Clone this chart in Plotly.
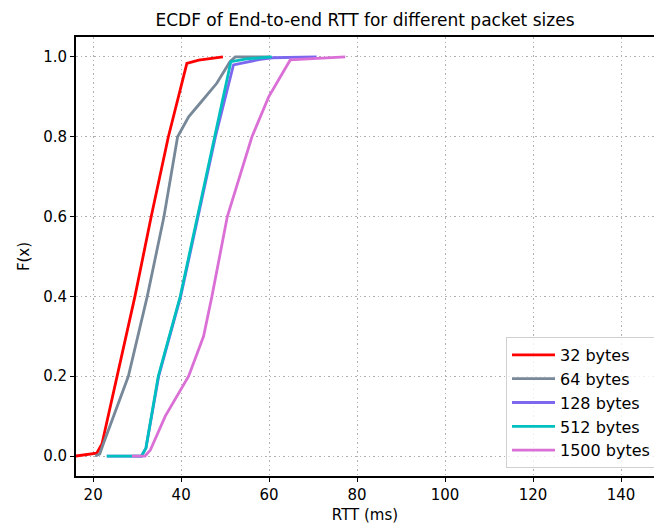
import plotly.graph_objects as go

labels = ["32 bytes", "64 bytes", "128 bytes", "512 bytes", "1500 bytes"]
colors = ["#ff0000", "#778899", "#7b68ee", "#00bfbf", "#da70d6"]

rtt_32 = [16.0, 20.8, 22.0, 25.4, 29.5, 33.2, 37.1, 41.3, 44.0, 49.5]
ecdf_32 = [0.0, 0.007, 0.03, 0.2, 0.4, 0.6, 0.8, 0.984, 0.992, 1.0]

rtt_64 = [20.5, 21.5, 22.3, 28.0, 32.3, 36.1, 39.2, 41.7, 44.3, 48.1, 51.1, 52.3, 60.0]
ecdf_64 = [0.0, 0.005, 0.03, 0.2, 0.4, 0.6, 0.8, 0.85, 0.884, 0.934, 0.988, 1.0, 1.0]

rtt_128 = [23.1, 31.0, 32.0, 34.9, 39.9, 43.8, 47.8, 51.9, 58.0, 60.8, 70.8]
ecdf_128 = [0.0, 0.0, 0.02, 0.2, 0.4, 0.6, 0.8, 0.98, 0.994, 0.998, 1.0]

rtt_512 = [23.1, 31.0, 32.0, 34.8, 39.8, 43.7, 47.7, 51.3, 54.9, 60.6]
ecdf_512 = [0.0, 0.0, 0.02, 0.2, 0.4, 0.6, 0.8, 0.988, 0.995, 1.0]

rtt_1500 = [28.8, 31.8, 33.0, 36.4, 41.7, 45.1, 47.0, 50.5, 56.1, 59.9, 64.8, 77.3]
ecdf_1500 = [0.0, 0.0, 0.015, 0.1, 0.2, 0.3, 0.4, 0.6, 0.8, 0.9, 0.9925, 1.0]

xs = [rtt_32, rtt_64, rtt_128, rtt_512, rtt_1500]
ys = [ecdf_32, ecdf_64, ecdf_128, ecdf_512, ecdf_1500]

x_ticks = [20, 40, 60, 80, 100, 120, 140]
y_ticks = [0.0, 0.2, 0.4, 0.6, 0.8, 1.0]

fig = go.Figure()
for x, y, name, c in zip(xs, ys, labels, colors):
    fig.add_trace(go.Scatter(x=x, y=y, mode="lines", name=name,
                             line=dict(color=c, width=2.8)))

font = "DejaVu Sans"
fig.update_layout(
    width=654, height=528,
    margin=dict(l=76, r=0, t=37, b=52, autoexpand=False),
    plot_bgcolor="white", paper_bgcolor="white",
    font=dict(family=font, size=15, color="black"),
    title=dict(text="ECDF of End-to-end RTT for different packet sizes",
               x=365 / 654, xanchor="center", y=1 - 20 / 528, yanchor="middle",
               font=dict(size=17, family=font, color="black")),
    showlegend=True,
    legend=dict(x=(506 - 76) / 578, y=(476 - 468) / 439, xanchor="left", yanchor="bottom",
                bgcolor="rgba(255,255,255,0.8)", bordercolor="#d0d0d0",
                borderwidth=1, font=dict(size=16, family=font),
                tracegroupgap=0, itemwidth=43),
)
fig.update_xaxes(range=[16.1, 147.5], tickvals=x_ticks,
                 ticktext=[str(v) for v in x_ticks], automargin=False,
                 showline=True, linecolor="black", linewidth=2, mirror=True,
                 ticks="outside", ticklen=4, tickcolor="black", tickwidth=1,
                 showgrid=True, gridcolor="#b0b0b0", griddash="1.5px,3px", gridwidth=1,
                 zeroline=False,
                 title=dict(text="RTT (ms)", font=dict(size=15), standoff=6))
fig.update_yaxes(range=[-0.05, 1.05], tickvals=y_ticks,
                 ticktext=[f"{v:.1f}" for v in y_ticks], automargin=False,
                 showline=True, linecolor="black", linewidth=2, mirror=False,
                 ticks="outside", ticklen=4, tickcolor="black", tickwidth=1,
                 showgrid=True, gridcolor="#b0b0b0", griddash="1.5px,3px", gridwidth=1,
                 zeroline=False,
                 title=dict(text="F(x)", font=dict(size=15), standoff=10))

fig.write_html("out.html", config={"displayModeBar": False},
               post_script="document.body.style.margin='0';document.body.style.overflow='hidden';")
